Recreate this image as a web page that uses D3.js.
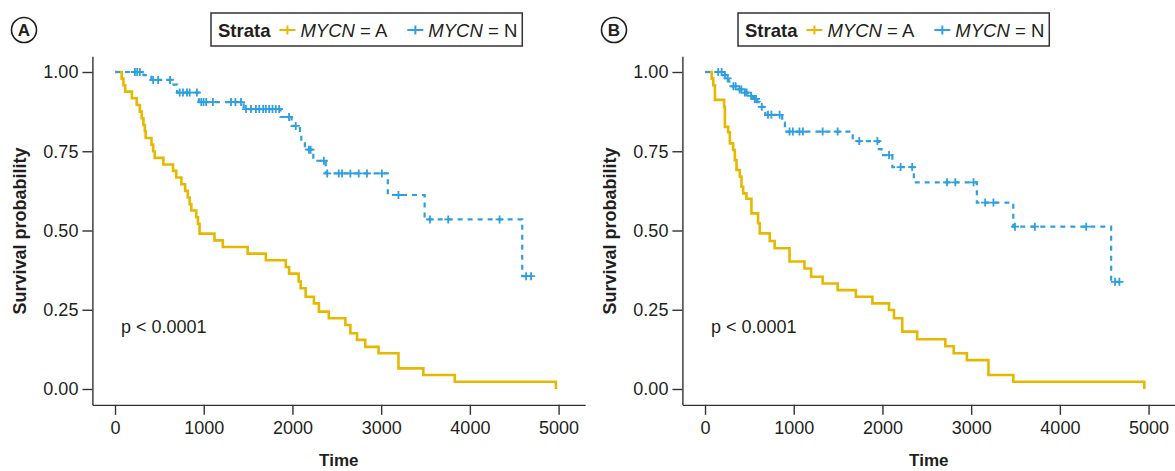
<!DOCTYPE html>
<html>
<head>
<meta charset="utf-8">
<title>Survival by MYCN status</title>
<script src="https://cdn.jsdelivr.net/npm/d3@7"></script>
<style>
 body { margin: 0; background: #fff; }
 svg text { font-family: "Liberation Sans", Arial, Helvetica, sans-serif; fill: #231f20; }
 .axis path, .axis line { stroke: #333; stroke-width: 1.4; }
 .axis text { font-size: 18px; font-family: "Liberation Sans", Arial, sans-serif; fill: #231f20; }
</style>
</head>
<body>
<svg width="1175" height="471"></svg>
<script>
// tick labels
const xTicks = [0, 1000, 2000, 3000, 4000, 5000];
const yTicks = [0, 0.25, 0.5, 0.75, 1];
const groups = ["A", "N"];
const colors = ["#E7B800", "#2E9FDF"];

// panel A, MYCN = A (events)
const timeA_amp = [75, 95, 115, 190, 245, 280, 300, 320, 336, 345, 411, 430, 448, 545, 654, 690, 748, 790, 820, 841, 860, 916, 935, 953, 1121, 1215, 1495, 1700, 1925, 1962, 2070, 2093, 2149, 2242, 2298, 2410, 2597, 2653, 2728, 2821, 2971, 3195, 3475, 3830, 4970];
const survA_amp = [0.979, 0.958, 0.938, 0.917, 0.896, 0.875, 0.854, 0.833, 0.813, 0.792, 0.771, 0.75, 0.729, 0.708, 0.688, 0.667, 0.646, 0.625, 0.604, 0.583, 0.563, 0.542, 0.521, 0.49, 0.469, 0.448, 0.427, 0.406, 0.385, 0.364, 0.339, 0.318, 0.291, 0.27, 0.244, 0.223, 0.202, 0.176, 0.155, 0.133, 0.113, 0.065, 0.044, 0.023, 0];
const censA_amp = [];

// panel A, MYCN = N
const timeA_non = [320, 410, 640, 700, 945, 1450, 1865, 1990, 2085, 2100, 2140, 2235, 2375, 3075, 3490, 4590];
const survA_non = [0.99, 0.975, 0.96, 0.935, 0.905, 0.883, 0.858, 0.83, 0.805, 0.78, 0.755, 0.72, 0.68, 0.612, 0.535, 0.356];
const censA_non = [224, 250, 280, 430, 486, 620, 729, 766, 811, 841, 923, 972, 998, 1028, 1103, 1308, 1357, 1420, 1476, 1532, 1588, 1626, 1670, 1700, 1738, 1775, 1812, 1850, 1962, 2037, 2186, 2205, 2354, 2392, 2522, 2560, 2653, 2747, 2840, 3008, 3195, 3550, 3756, 4335, 4634, 4690];

// panel B, MYCN = A
const timeB_amp = [75, 93, 112, 215, 224, 261, 280, 317, 336, 355, 392, 411, 430, 467, 523, 598, 617, 729, 785, 953, 1121, 1196, 1326, 1495, 1700, 1887, 2074, 2130, 2223, 2391, 2709, 2803, 2952, 3195, 3475, 4952];
const survB_amp = [0.979, 0.958, 0.912, 0.89, 0.827, 0.81, 0.775, 0.754, 0.722, 0.691, 0.67, 0.638, 0.617, 0.6, 0.554, 0.523, 0.491, 0.467, 0.444, 0.402, 0.38, 0.354, 0.333, 0.312, 0.291, 0.27, 0.249, 0.223, 0.181, 0.157, 0.135, 0.113, 0.091, 0.044, 0.023, 0];
const censB_amp = [];

// panel B, MYCN = N
const timeB_non = [200, 240, 265, 300, 360, 420, 480, 540, 590, 617, 680, 870, 900, 1665, 1960, 1990, 2112, 2354, 3064, 3475, 4578];
const survB_non = [0.99, 0.98, 0.97, 0.955, 0.945, 0.935, 0.925, 0.915, 0.905, 0.89, 0.865, 0.84, 0.812, 0.782, 0.757, 0.738, 0.70, 0.652, 0.588, 0.512, 0.338];
const censB_non = [149, 187, 224, 255, 320, 345, 390, 410, 450, 470, 520, 560, 575, 640, 710, 748, 841, 953, 990, 1065, 1103, 1326, 1495, 1738, 1943, 2074, 2205, 2335, 2728, 2821, 3027, 3158, 3251, 3494, 3718, 4297, 4622, 4671];

const panels = [
 { label: "A", dx: 0, legendX: 211, curves: [
   { time: timeA_amp, surv: survA_amp, cens: censA_amp },
   { time: timeA_non, surv: survA_non, cens: censA_non } ] },
 { label: "B", dx: 590, legendX: 738, curves: [
   { time: timeB_amp, surv: survB_amp, cens: censB_amp },
   { time: timeB_non, surv: survB_non, cens: censB_non } ] }
];

const svg = d3.select("svg");

// ggplot-like expanded scales
const x = d3.scaleLinear().domain([-255, 5300]).range([92.4, 585.2]);
const y = d3.scaleLinear().domain([-0.05, 1.05]).range([404.85, 56.15]);

function survAt(c, t) {
 let s = 1;
 for(let i = 0; i < c.time.length; i++) {
  if(c.time[i] <= t) s = c.surv[i];
 }
 return s;
}

function plusPath(cx, cy, r) {
 return `M${cx - r},${cy}H${cx + r}M${cx},${cy - r}V${cy + r}`;
}

panels.forEach(p => {
 const g = svg.append("g").attr("transform", `translate(${p.dx},0)`);

 // axes
 g.append("g").attr("class", "axis")
  .attr("transform", `translate(0,${y(-0.05)})`)
  .call(d3.axisBottom(x).tickValues(xTicks).tickFormat(d3.format("d")).tickSizeInner(10).tickSizeOuter(0).tickPadding(6));
 g.append("g").attr("class", "axis")
  .attr("transform", `translate(${x(-255)},0)`)
  .call(d3.axisLeft(y).tickValues(yTicks).tickFormat(d3.format(".2f")).tickSizeInner(10).tickSizeOuter(0).tickPadding(4));

 // curves
 p.curves.forEach((c, i) => {
  const last = Math.max(c.time[c.time.length - 1], c.cens.length ? c.cens[c.cens.length - 1] : 0);
  const pts = [[0, 1]].concat(c.time.map((t, k) => [t, c.surv[k]]));
  pts.push([last, survAt(c, last)]);
  g.append("path")
   .attr("d", d3.line().x(d => x(d[0])).y(d => y(d[1])).curve(d3.curveStepAfter)(pts))
   .attr("fill", "none")
   .attr("stroke", colors[i])
   .attr("stroke-width", i === 0 ? 2.6 : 2.2)
   .attr("stroke-dasharray", i === 0 ? null : "5,5");
  g.append("g").selectAll("path")
   .data(c.cens)
   .enter().append("path")
   .attr("d", t => plusPath(x(t), y(survAt(c, t)), 4))
   .attr("stroke", colors[i])
   .attr("stroke-width", 1.8);
 });

 // p value
 g.append("text")
  .attr("x", 121).attr("y", 333)
  .style("font-size", "18px")
  .text("p < 0.0001");

 // axis titles
 g.append("text")
  .attr("transform", "translate(20,231) rotate(-90)")
  .attr("text-anchor", "middle")
  .attr("dominant-baseline", "central")
  .style("font-size", "18px").style("font-weight", "bold")
  .text("Survival probability");
 g.append("text")
  .attr("x", (x(-255) + x(5300)) / 2).attr("y", 466)
  .attr("text-anchor", "middle")
  .style("font-size", "17px").style("font-weight", "bold")
  .text("Time");

 // panel letter
 g.append("circle")
  .attr("cx", 24).attr("cy", 30).attr("r", 12.5)
  .attr("fill", "none").attr("stroke", "#231f20").attr("stroke-width", 1.6);
 g.append("text")
  .attr("x", 24).attr("y", 30.5)
  .attr("text-anchor", "middle").attr("dominant-baseline", "central")
  .style("font-size", "17px").style("font-weight", "bold")
  .text(p.label);

 // legend
 const lg = svg.append("g").attr("transform", `translate(${p.legendX},13)`);
 const box = lg.append("rect")
  .attr("x", 0).attr("y", 0).attr("height", 33)
  .attr("fill", "#fff").attr("stroke", "#333").attr("stroke-width", 1.5);
 const strata = lg.append("text")
  .attr("x", 7).attr("y", 23.5)
  .style("font-size", "18.5px").style("font-weight", "bold")
  .text("Strata");
 let cx = 7 + strata.node().getComputedTextLength() + 9;
 groups.forEach((grp, i) => {
  lg.append("path")
   .attr("d", `M${cx},17H${cx + 16}` + plusPath(cx + 8, 17, 4.5))
   .attr("stroke", colors[i]).attr("stroke-width", 2);
  const t = lg.append("text").attr("x", cx + 21).attr("y", 23.5).style("font-size", "18.5px");
  t.append("tspan").style("font-style", "italic").text("MYCN");
  t.append("tspan").text(" = " + grp);
  cx += 21 + t.node().getComputedTextLength() + 20;
 });
 box.attr("width", cx - 20 + 5);
});
</script>
</body>
</html>
